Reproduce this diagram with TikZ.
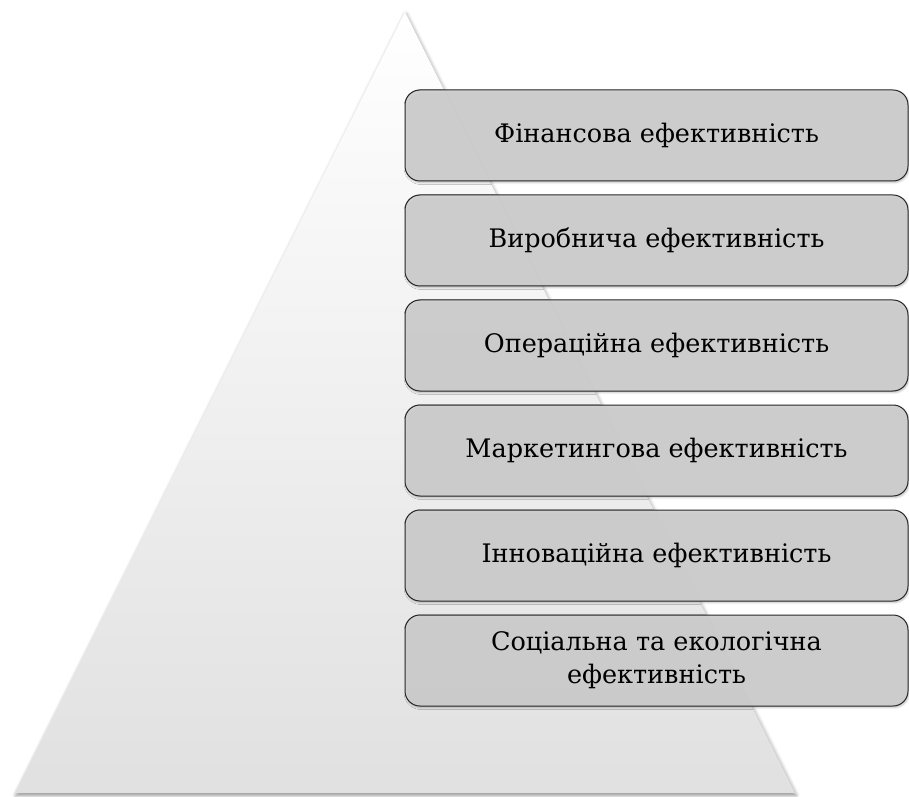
\documentclass[tikz,border=0pt]{standalone}
\usepackage{fontspec}
\setmainfont{DejaVu Serif}
\usetikzlibrary{positioning,shadows.blur}

\begin{document}
\begin{tikzpicture}[x=1pt,y=1pt,node distance=13pt,
    pyramid/.style={top color=white,bottom color=black!12,
        blur shadow={shadow xshift=1pt,shadow yshift=-2.5pt,shadow blur radius=4pt,shadow opacity=45}},
    level/.style={draw=black!85,line width=1pt,fill=black!19,fill opacity=0.9,text opacity=1,
        rounded corners=15pt,minimum width=503pt,minimum height=91pt,align=center,
        font=\fontsize{25.5}{33}\selectfont,
        blur shadow={shadow xshift=1pt,shadow yshift=-1.5pt,shadow blur radius=2pt,shadow opacity=30}}]

    \useasboundingbox (0,0) rectangle (909,796);

    % pyramid
    \coordinate (apex) at (405,784);
    \coordinate (baseL) at (15,3);
    \coordinate (baseR) at (795,3);
    \path[pyramid] (apex) -- (baseR) -- (baseL) -- cycle;

    % levels
    \node[level] (fin) at (656.5,660.5) {Фінансова ефективність};
    \node[level] (prod) [below=of fin] {Виробнича ефективність};
    \node[level] (oper) [below=of prod] {Операційна ефективність};
    \node[level] (mark) [below=of oper] {Маркетингова ефективність};
    \node[level] (inno) [below=of mark] {Інноваційна ефективність};
    \node[level] (soc) [below=of inno] {Соціальна та екологічна\\ефективність};

\end{tikzpicture}
\end{document}
